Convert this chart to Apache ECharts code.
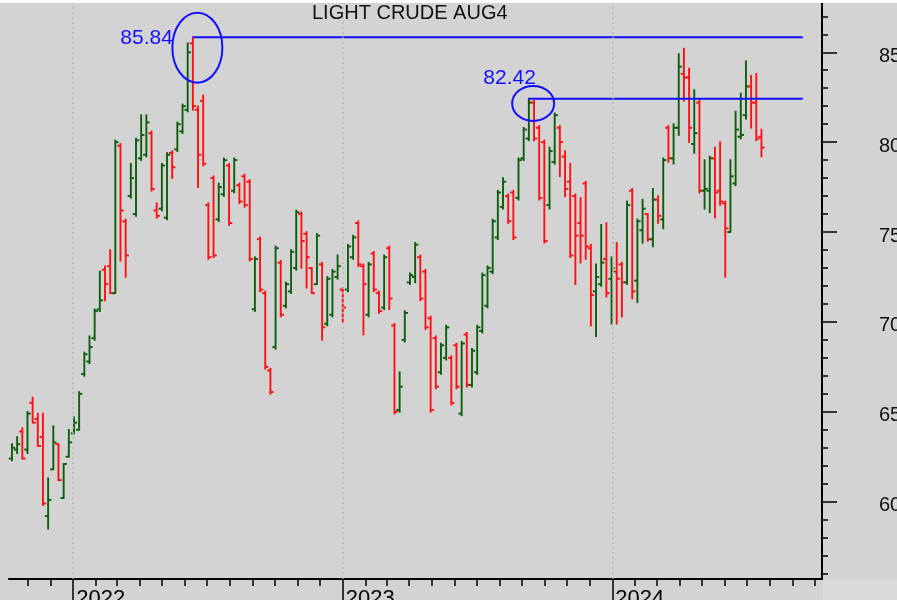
<!DOCTYPE html>
<html>
<head>
<meta charset="utf-8">
<script src="https://cdn.jsdelivr.net/npm/echarts@6/dist/echarts.min.js"></script>
<style>
html, body { margin: 0; padding: 0; background: #d3d3d3; }
#chart { width: 897px; height: 600px; }
</style>
</head>
<body>
<div id="chart"></div>
<script>
// Weekly bars of the August 2024 light crude contract
const firstWeek = '2021-10-10';

const opens = [
  62.4,62.9,63.9,62.9,65.5,64.6,63.6,59.2,61.8,63.2,
  60.2,62.5,63.8,64.0,67.1,67.8,69.1,70.7,72.9,73.1,
  71.6,79.8,75.6,77.0,76.0,79.1,79.3,80.5,76.2,76.3,
  75.8,79.4,79.6,80.6,81.8,85.5,81.8,82.3,76.5,78.0,
  75.7,77.1,78.7,77.3,77.6,78.1,77.8,70.7,74.6,71.6,
  67.3,68.6,73.3,70.9,71.7,73.0,76.0,74.9,73.0,72.1,
  73.2,69.9,70.4,72.5,71.8,71.8,73.6,75.5,73.1,70.4,
  73.8,71.6,70.8,74.1,69.8,65.1,69.0,72.2,72.5,73.6,
  72.8,70.2,69.1,67.2,68.0,68.0,68.7,64.9,69.3,66.5,
  67.2,69.5,70.9,72.8,74.7,76.4,77.0,77.2,76.9,79.1,
  80.2,82.2,80.8,80.0,76.5,78.9,80.8,79.2,77.8,77.0,
  75.5,77.7,74.1,71.7,72.1,73.5,72.4,72.8,73.2,72.2,
  77.3,72.3,75.1,76.0,74.6,76.8,75.7,80.8,79.1,80.8,
  83.8,83.6,79.9,82.2,77.3,77.3,79.1,77.3,76.6,75.0,
  77.7,80.3,81.5,83.1,82.2,80.3
];
const highs = [
  63.2,63.6,64.1,65.0,65.8,64.9,64.9,61.3,64.2,63.2,
  62.1,64.0,64.7,66.1,68.3,69.2,70.7,72.8,73.1,74.0,
  80.1,79.9,75.7,78.8,80.2,81.5,81.5,80.6,76.6,78.8,
  79.4,79.5,81.1,82.1,85.5,85.84,82.0,82.6,76.6,78.1,
  77.7,79.1,78.8,79.1,77.7,78.2,77.9,73.6,74.7,71.7,
  67.4,74.2,73.4,72.2,74.0,76.2,76.1,75.0,73.0,74.9,
  73.3,72.5,72.9,73.7,71.9,74.3,74.8,75.6,73.2,73.3,
  73.9,71.7,73.7,74.2,69.9,67.2,70.6,72.7,74.4,73.7,
  72.9,70.3,69.2,68.8,69.8,68.1,68.8,68.9,69.4,68.5,
  69.8,72.7,73.1,75.7,77.3,78.0,77.1,77.3,79.1,80.8,
  82.42,82.3,80.9,80.1,79.7,81.6,80.9,79.5,78.8,77.1,
  76.9,77.8,74.3,73.2,75.4,75.5,73.6,74.4,73.3,76.7,
  77.4,75.7,76.8,76.0,77.4,77.0,79.1,80.9,81.0,84.9,
  85.2,84.1,82.9,82.4,79.0,79.2,79.7,80.0,76.7,79.0,
  81.7,82.7,84.5,83.7,83.8,80.7
];
const lows = [
  62.3,62.7,62.4,62.7,64.4,63.1,59.8,58.5,61.8,61.2,
  60.2,62.5,63.8,64.0,67.0,67.7,69.0,70.6,71.2,71.6,
  71.6,73.4,72.5,76.9,75.9,79.0,79.2,77.3,75.8,76.2,
  75.7,78.0,79.5,80.5,81.7,81.8,77.5,78.7,73.5,73.6,
  75.6,77.0,75.4,77.2,76.6,76.4,73.4,70.6,71.7,67.4,
  66.0,68.5,70.3,70.8,71.6,72.9,73.0,71.9,71.6,72.1,
  69.0,69.8,70.3,72.4,70.0,71.7,73.5,73.1,69.3,70.3,
  71.7,70.5,70.7,70.7,64.9,65.0,68.9,72.1,72.2,71.2,
  69.6,65.0,66.3,67.1,67.9,65.4,66.3,64.8,66.4,66.4,
  67.1,69.4,70.8,72.7,74.6,76.3,75.5,74.6,76.8,79.0,
  80.1,80.1,76.8,74.4,76.3,78.8,78.1,77.0,73.6,72.1,
  73.3,73.5,69.8,69.2,72.0,71.4,69.9,69.9,70.3,72.1,
  71.3,71.1,74.4,74.5,74.2,75.5,75.2,78.9,78.8,80.4,
  82.3,80.0,79.4,77.2,76.3,76.1,75.8,76.5,72.5,75.0,
  77.6,80.2,81.3,80.8,80.1,79.2
];
const closes = [
  63.0,63.2,62.4,64.9,64.4,63.1,59.9,60.1,63.3,61.2,
  62.1,63.3,64.4,66.0,68.2,68.6,70.6,71.2,72.1,71.6,
  80.0,76.2,73.7,78.0,80.1,80.4,81.1,77.4,75.9,78.7,
  79.3,78.6,81.0,82.0,85.0,82.0,79.3,78.8,73.6,73.7,
  77.5,79.0,75.5,79.0,76.7,76.5,73.5,73.5,71.8,67.5,
  66.1,74.1,70.4,72.1,73.9,76.1,74.5,73.6,71.6,74.8,
  69.7,72.4,72.8,73.1,70.8,74.2,74.7,73.2,72.1,73.2,
  71.8,70.6,73.6,71.3,65.0,66.4,70.5,72.6,74.3,71.3,
  69.7,65.1,66.4,68.7,69.7,65.5,66.4,68.8,66.5,68.4,
  69.7,72.6,73.0,75.6,77.2,77.8,75.6,74.7,79.0,80.7,
  82.2,80.2,76.9,74.5,79.5,81.5,80.0,77.4,73.7,74.8,
  74.8,74.2,71.5,72.5,73.3,71.6,73.0,72.4,72.2,76.5,
  71.7,75.6,76.3,74.6,76.8,75.9,79.0,79.1,80.8,84.2,
  83.6,80.8,80.5,77.3,77.4,79.1,77.2,76.7,75.2,78.1,
  80.7,80.4,83.1,82.2,80.2,79.7
];

// Weeks holding the marked highs
const markedWeeks = [35, 100];
const priceTicks = [60, 65, 70, 75, 80, 85];
const yearTicks = ['2022-01-01', '2023-01-01', '2024-01-01'];
const axisStart = '2021-10-06';
const axisEnd = '2024-10-11';
const markLineEnd = '2024-09-15';
const titleText = 'LIGHT CRUDE AUG4';

const UP = '#0b5e0b';
const DOWN = '#ff1010';
const MARK = '#1010ff';
const FONT = '"Liberation Sans", Arial, sans-serif';
const DAY = 86400000;

const t = s => new Date(s + 'T00:00:00').getTime();
const start = t(firstWeek);
const weekTimes = highs.map((_, i) => start + i * 7 * DAY);
const bars = weekTimes.map((d, i) => [d, opens[i], closes[i], lows[i], highs[i]]);

const monthTicks = [];
for (let y = 2021; y <= 2024; y++) {
  for (let m = 0; m < 12; m++) {
    const v = new Date(y, m, 1).getTime();
    if (v >= t(axisStart) && v <= t(axisEnd)) monthTicks.push(v);
  }
}
const unitTicks = [];
for (let v = 56; v <= 87; v++) unitTicks.push(v);
const yearTimes = yearTicks.map(t);

const marked = markedWeeks.map(i => [weekTimes[i], highs[i]]);
// placement of each annotation relative to its high (pixels)
const markStyle = [
  { ex: 4.5, ey: 10.5, rx: 25, ry: 35, tx: -20, ty: 1 },
  { ex: 4.3, ey: 4.8, rx: 21, ry: 17.5, tx: 7, ty: -20 }
];

function renderBar(params, api) {
  const x = api.value(0);
  const o = api.value(1), c = api.value(2);
  const po = api.coord([x, o]);
  const pc = api.coord([x, c]);
  const pl = api.coord([x, api.value(3)]);
  const ph = api.coord([x, api.value(4)]);
  const color = c >= o ? UP : DOWN;
  const st = { stroke: color, lineWidth: 1.9 };
  return {
    type: 'group',
    children: [
      { type: 'line', shape: { x1: ph[0], y1: ph[1] - 0.8, x2: pl[0], y2: pl[1] + 0.8 }, style: st },
      { type: 'line', shape: { x1: po[0] - 3.2, y1: po[1], x2: po[0], y2: po[1] }, style: st },
      { type: 'line', shape: { x1: pc[0], y1: pc[1], x2: pc[0] + 3.2, y2: pc[1] }, style: st }
    ]
  };
}

function renderMark(params, api) {
  const v = api.value(1);
  const p = api.coord([api.value(0), v]);
  const e = api.coord([t(markLineEnd), v]);
  const s = markStyle[params.dataIndex];
  return {
    type: 'group',
    children: [
      { type: 'line', shape: { x1: p[0], y1: p[1], x2: e[0], y2: e[1] },
        style: { stroke: MARK, lineWidth: 2 } },
      { type: 'ellipse', shape: { cx: p[0] + s.ex, cy: p[1] + s.ey, rx: s.rx, ry: s.ry },
        style: { stroke: MARK, lineWidth: 2, fill: null } },
      { type: 'text', x: p[0] + s.tx, y: p[1] + s.ty,
        style: { text: v.toFixed(2), fill: MARK, font: '21px ' + FONT, align: 'right', verticalAlign: 'middle' } }
    ]
  };
}

const chart = echarts.init(document.getElementById('chart'), null, { renderer: 'canvas' });
chart.setOption({
  animation: false,
  backgroundColor: '#d3d3d3',
  title: {
    text: titleText, left: 307, top: -2,
    textStyle: { fontFamily: FONT, fontSize: 20, fontWeight: 'normal', color: '#111' }
  },
  graphic: [
    { type: 'rect', left: 0, top: 0, shape: { width: 897, height: 3 }, style: { fill: '#ffffff' }, z: 100 },
    { type: 'rect', left: 823, top: 580, shape: { width: 74, height: 20 }, style: { fill: '#dadada' }, z: -1 }
  ],
  grid: { left: 9, right: 75, top: 3, bottom: 21, containLabel: false, outerBoundsMode: 'none' },
  xAxis: [
    {
      type: 'value', min: t(axisStart), max: t(axisEnd), position: 'bottom',
      axisLine: { show: true, lineStyle: { color: '#000', width: 2 } },
      axisTick: { show: true, customValues: monthTicks, length: 7, lineStyle: { color: '#000', width: 1.5 } },
      axisLabel: { show: false },
      splitLine: { show: false }
    },
    {
      type: 'value', min: t(axisStart), max: t(axisEnd), position: 'bottom',
      axisLine: { show: false },
      axisTick: { show: true, customValues: yearTimes, length: 22, lineStyle: { color: '#000', width: 1.5 } },
      axisLabel: {
        show: true, customValues: yearTimes, margin: 9, align: 'left', padding: [0, 0, 0, 3],
        fontFamily: FONT, fontSize: 22, color: '#000',
        formatter: v => String(new Date(v).getFullYear())
      },
      splitLine: { show: false }
    }
  ],
  yAxis: [
    {
      type: 'value', min: 55.7, max: 87.74, position: 'right',
      axisLine: { show: true, lineStyle: { color: '#000', width: 2 } },
      axisTick: { show: true, customValues: priceTicks, length: 15, lineStyle: { color: '#000', width: 1.5 } },
      axisLabel: {
        show: true, customValues: priceTicks, margin: 57, align: 'left',
        verticalAlign: 'top', lineHeight: 8,
        fontFamily: FONT, fontSize: 20, color: '#111'
      },
      splitLine: { show: false }
    },
    {
      type: 'value', min: 55.7, max: 87.74, position: 'right',
      axisLine: { show: false },
      axisTick: { show: true, customValues: unitTicks, length: 6, lineStyle: { color: '#000', width: 1.5 } },
      axisLabel: { show: false },
      splitLine: { show: false }
    }
  ],
  series: [
    {
      type: 'custom', name: 'weekly', xAxisIndex: 0, yAxisIndex: 0,
      renderItem: renderBar, data: bars,
      encode: { x: 0, y: [1, 2, 3, 4] },
      markLine: {
        silent: true, symbol: 'none', label: { show: false },
        lineStyle: { type: [2, 3], color: '#b8b8b8', width: 1.5 },
        data: yearTimes.map(v => ({ xAxis: v }))
      },
      z: 3
    },
    {
      type: 'custom', name: 'highs', xAxisIndex: 0, yAxisIndex: 0,
      renderItem: renderMark, data: marked,
      encode: { x: 0, y: 1 }, z: 4
    }
  ]
});
</script>
</body>
</html>
